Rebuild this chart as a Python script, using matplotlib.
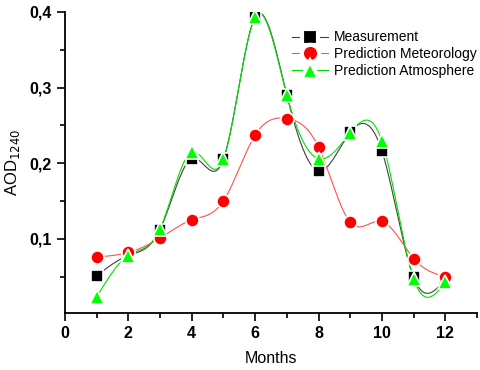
import numpy as np
import matplotlib
matplotlib.use("Agg")
import matplotlib.pyplot as plt
from matplotlib.ticker import FuncFormatter, MultipleLocator

plt.rcParams["font.family"] = ["Liberation Sans", "DejaVu Sans"]

months = [1, 2, 3, 4, 5, 6, 7, 8, 9, 10, 11, 12]
measurement = [0.051, 0.078, 0.112, 0.206, 0.205, 0.393, 0.290, 0.190, 0.241, 0.216, 0.049, 0.047]
pred_meteo = [0.076, 0.082, 0.101, 0.125, 0.150, 0.237, 0.259, 0.221, 0.122, 0.123, 0.074, 0.050]
pred_atmos = [0.023, 0.078, 0.113, 0.215, 0.205, 0.393, 0.290, 0.206, 0.240, 0.229, 0.047, 0.043]


def natural_spline(x, y, n=400):
    """Natural cubic spline through the points, used only to draw the smooth line."""
    x = np.asarray(x, float)
    y = np.asarray(y, float)
    m = len(x)
    h = np.diff(x)
    A = np.zeros((m, m))
    b = np.zeros(m)
    A[0, 0] = A[-1, -1] = 1.0
    for i in range(1, m - 1):
        A[i, i - 1] = h[i - 1]
        A[i, i] = 2 * (h[i - 1] + h[i])
        A[i, i + 1] = h[i]
        b[i] = 6 * ((y[i + 1] - y[i]) / h[i] - (y[i] - y[i - 1]) / h[i - 1])
    M = np.linalg.solve(A, b)
    xs = np.linspace(x[0], x[-1], n)
    idx = np.clip(np.searchsorted(x, xs) - 1, 0, m - 2)
    x0, x1 = x[idx], x[idx + 1]
    hh = x1 - x0
    t0, t1 = x1 - xs, xs - x0
    ys = (M[idx] * t0 ** 3 + M[idx + 1] * t1 ** 3) / (6 * hh) \
        + (y[idx] / hh - M[idx] * hh / 6) * t0 \
        + (y[idx + 1] / hh - M[idx + 1] * hh / 6) * t1
    return xs, ys


fig = plt.figure(figsize=(4.8, 3.7), dpi=100)
ax = fig.add_axes([0.135, 0.154, 0.859, 0.814])

series = [
    (measurement, "#404040", "black", "s", 8.5, "Measurement"),
    (pred_meteo, "#ff5050", "red", "o", 9.5, "Prediction Meteorology"),
    (pred_atmos, "#00e000", "#00ff00", "^", 10, "Prediction Atmosphere"),
]

for vals, lc, mc, mk, ms, lab in series:
    xs, ys = natural_spline(months, vals)
    ax.plot(xs, ys, color=lc, lw=0.8, zorder=2)
    ax.plot(months, vals, ls="none", marker=mk, ms=ms, color=mc,
            mec="white", mew=1.2, zorder=3)
    ax.plot([], [], color=lc, lw=0.8, marker=mk, ms=ms + 3, mfc=mc,
            mec="white", mew=3, label=lab)

ax.set_xlim(0, 13)
ax.set_ylim(0.002, 0.4)
ax.xaxis.set_major_locator(MultipleLocator(2))
ax.xaxis.set_minor_locator(MultipleLocator(1))
ax.yaxis.set_major_locator(MultipleLocator(0.1))
ax.yaxis.set_minor_locator(MultipleLocator(0.05))
ax.yaxis.set_major_formatter(FuncFormatter(lambda v, p: f"{v:.1f}".replace(".", ",")))

for s in ["top", "right"]:
    ax.spines[s].set_visible(False)
for s in ["left", "bottom"]:
    ax.spines[s].set_linewidth(1.3)

ax.tick_params(which="major", direction="out", length=6, width=1.2,
               labelsize=11.5)
ax.tick_params(which="minor", direction="out", length=3.5, width=1.2)
for lbl in ax.get_xticklabels() + ax.get_yticklabels():
    lbl.set_fontweight("bold")

ax.set_xlabel("Months", fontsize=11.5, labelpad=7)
ax.set_ylabel("AOD$_{1240}$", fontsize=12, labelpad=5)

ax.legend(loc="upper right", bbox_to_anchor=(1.025, 0.975), frameon=False,
          fontsize=10, handlelength=2.6, handletextpad=0.4, labelspacing=0.2,
          borderpad=0.3)

fig.savefig("out.png", dpi=100)
